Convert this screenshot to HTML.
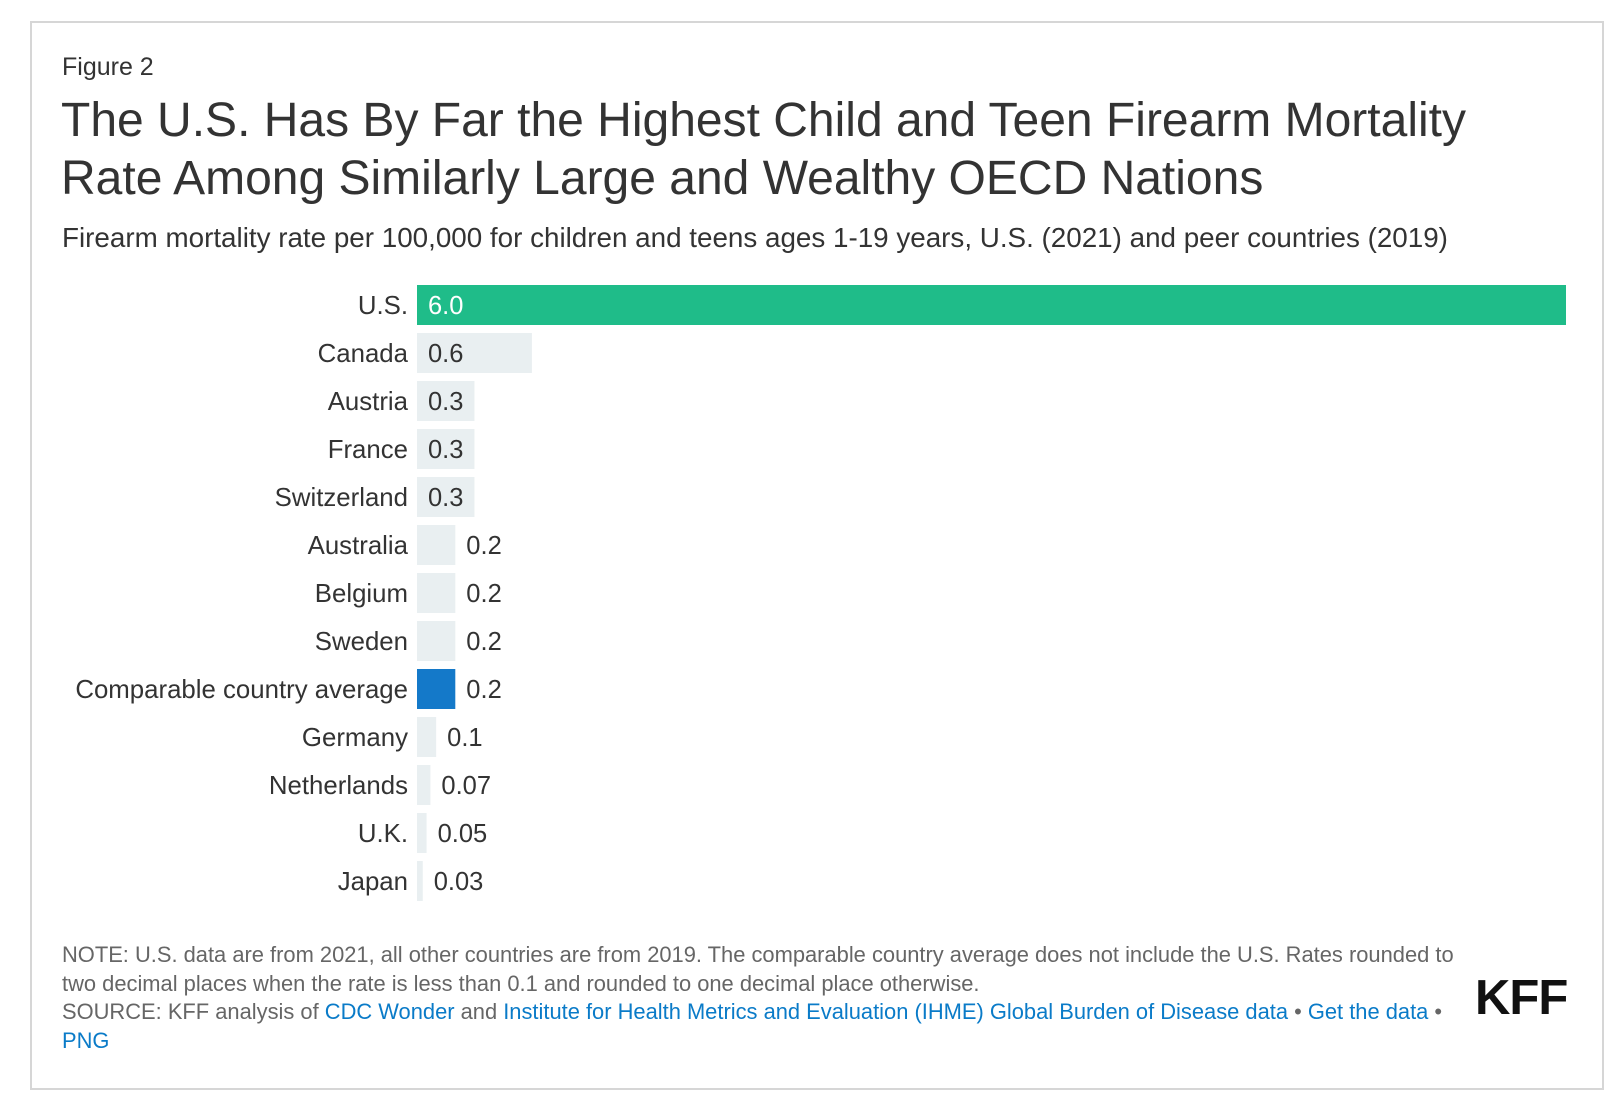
<!DOCTYPE html>
<html><head><meta charset="utf-8"><style>
body{margin:0;width:1616px;height:1104px;background:#fff;font-family:"Liberation Sans",sans-serif;color:#333;position:relative;overflow:hidden}
.frame{position:absolute;left:30px;top:21px;width:1574px;height:1069px;border:2px solid #d6d6d6;box-sizing:border-box}
.t{position:absolute;white-space:nowrap}
a{color:#0a7bc8;text-decoration:none}
</style></head><body>
<div class="frame"></div>
<div class="t" style="left:62px;top:53px;font-size:25px">Figure 2</div>
<div class="t" style="left:61px;top:92px;font-size:48px;line-height:58px;color:#333">The U.S. Has By Far the Highest Child and Teen Firearm Mortality<br>Rate Among Similarly Large and Wealthy OECD Nations</div>
<div class="t" style="left:62px;top:222px;font-size:27.8px">Firearm mortality rate per 100,000 for children and teens ages 1-19 years, U.S. (2021) and peer countries (2019)</div>
<svg id="chart" width="1616" height="1104" style="position:absolute;left:0;top:0"></svg>
<div class="t" style="left:62px;top:941px;font-size:21.9px;line-height:28.5px;color:#666">NOTE: U.S. data are from 2021, all other countries are from 2019. The comparable country average does not include the U.S. Rates rounded to<br>two decimal places when the rate is less than 0.1 and rounded to one decimal place otherwise.<br>SOURCE: KFF analysis of <a href="#">CDC Wonder</a> and <a href="#">Institute for Health Metrics and Evaluation (IHME) Global Burden of Disease data</a> • <a href="#">Get the data</a> •<br><a href="#">PNG</a></div>
<div class="t" style="left:1475px;top:970px;font-size:49px;font-weight:bold;letter-spacing:-1px;color:#111">KFF</div>
<script>
const categories=["U.S.","Canada","Austria","France","Switzerland","Australia","Belgium","Sweden","Comparable country average","Germany","Netherlands","U.K.","Japan"];
const values=[6.0,0.6,0.3,0.3,0.3,0.2,0.2,0.2,0.2,0.1,0.07,0.05,0.03];
const valueLabels=["6.0","0.6","0.3","0.3","0.3","0.2","0.2","0.2","0.2","0.1","0.07","0.05","0.03"];
const svg=document.getElementById('chart');const NS='http://www.w3.org/2000/svg';
const x0=417,xScale=v=>v*191.5,yPos=i=>285+i*48,bh=40;
categories.forEach((c,i)=>{
 const y=yPos(i),w=xScale(values[i]);
 const col=i===0?'#1fbc89':(c==='Comparable country average'?'#1479c9':'#e9eff1');
 const r=document.createElementNS(NS,'rect');
 r.setAttribute('x',x0);r.setAttribute('y',y);r.setAttribute('width',w);r.setAttribute('height',bh);r.setAttribute('fill',col);
 
 
 svg.appendChild(r);
 const l=document.createElementNS(NS,'text');
 l.setAttribute('x',408);l.setAttribute('y',y+29);l.setAttribute('text-anchor','end');l.setAttribute('font-size','25.8');l.setAttribute('fill','#333');
 l.textContent=c;
 
 
 svg.appendChild(l);
 const inside=w>50;
 const v=document.createElementNS(NS,'text');
 v.setAttribute('x',inside?x0+11:x0+w+11);v.setAttribute('y',y+29);v.setAttribute('font-size','25.5');
 v.setAttribute('fill',i===0?'#fff':'#333');
 v.textContent=valueLabels[i];
 
 
 svg.appendChild(v);
});
</script>
</body></html>
